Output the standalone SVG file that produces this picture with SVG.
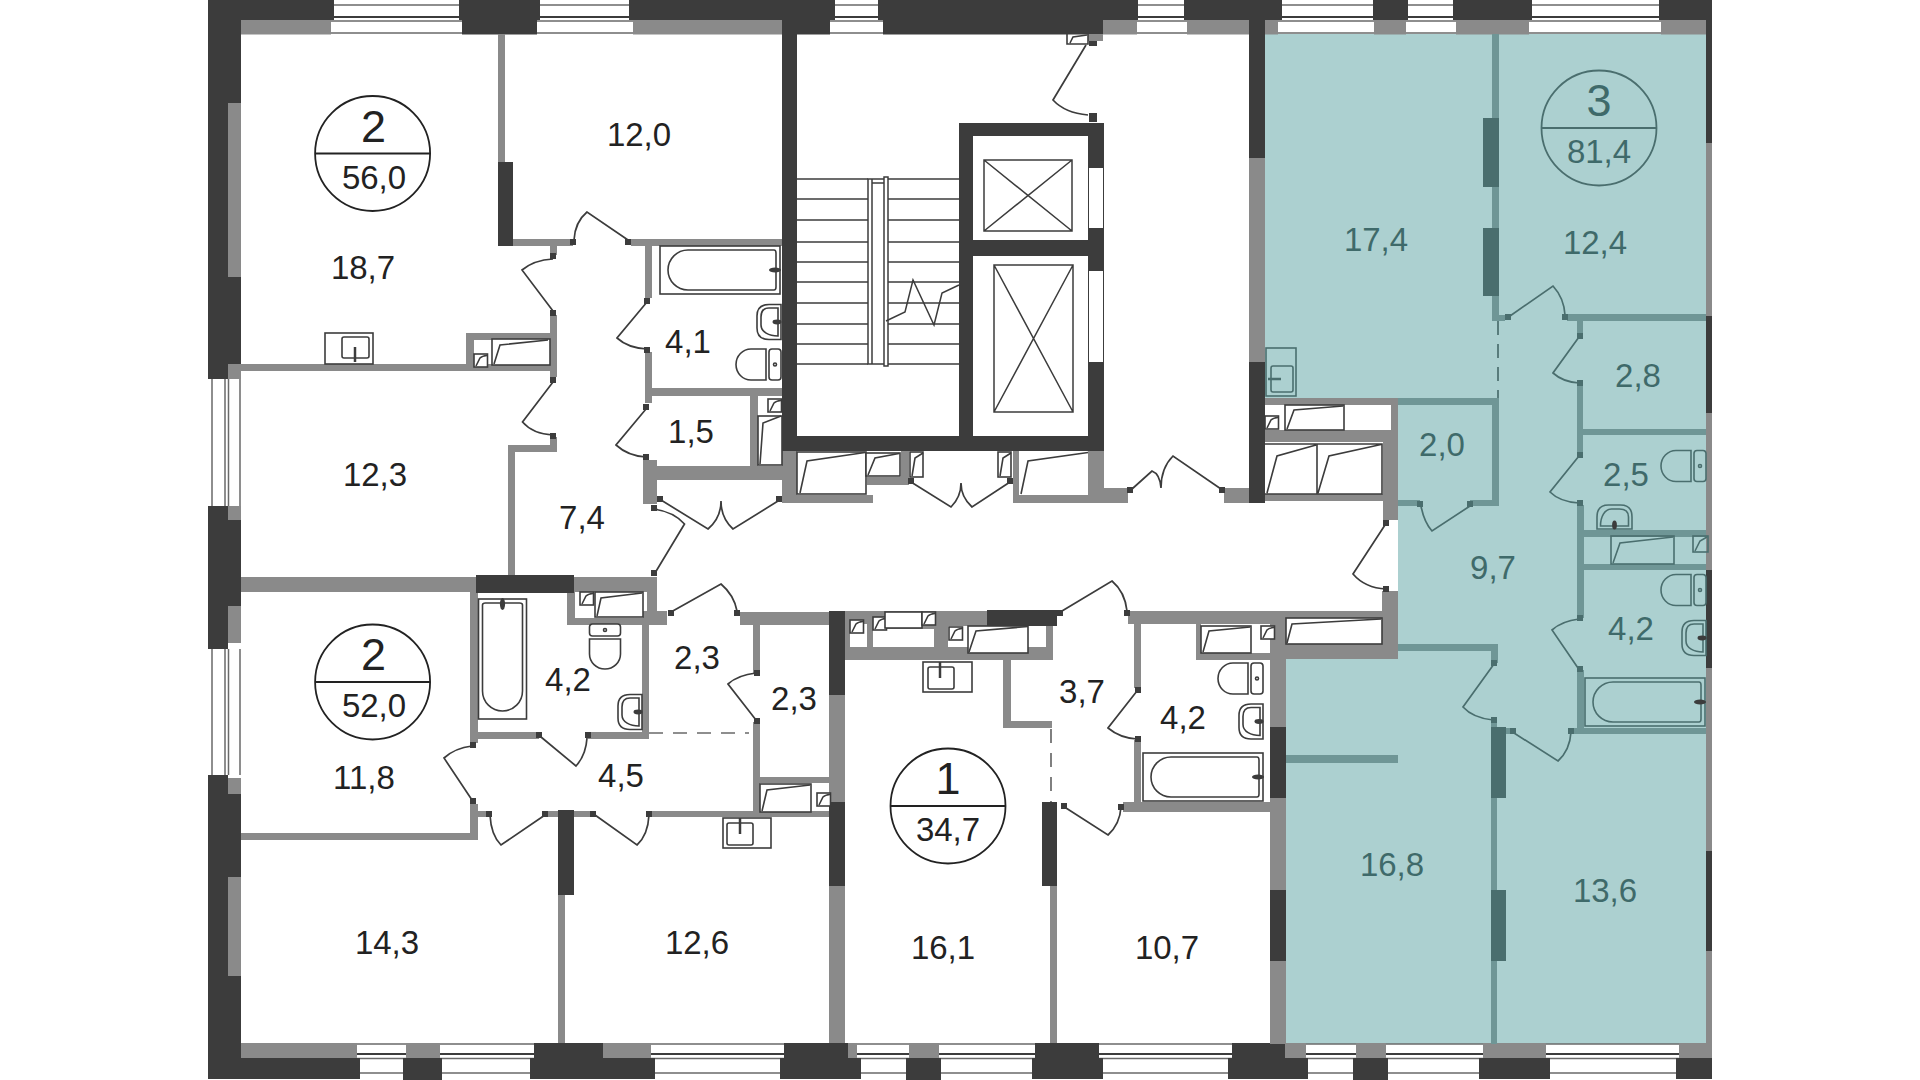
<svg xmlns="http://www.w3.org/2000/svg" width="1920" height="1080" viewBox="0 0 1920 1080">
<style>
.d{fill:#3c3c3c}.g{fill:#8a8a8a}.t{fill:#6f9696}.td{fill:#4a6e6e}
.win{stroke:#6a6a6a;stroke-width:1.500;fill:none}
.winh{stroke:#3c3c3c;stroke-width:2.200;fill:none}
.dr{fill:none;stroke:#3c3c3c;stroke-width:1.700}
.drt{fill:none;stroke:#4a6e6e;stroke-width:1.700}
.fx{fill:#fff;stroke:#3c3c3c;stroke-width:1.600}
.fxt{fill:none;stroke:#4a6e6e;stroke-width:1.600}
.solid{fill:#3c3c3c}
.fxt .solid{fill:#4a6e6e}
.st{stroke:#3c3c3c;stroke-width:1.500;fill:none}
.dash{stroke:#6a6a6a;stroke-width:1.700;stroke-dasharray:14 10;fill:none}
.l{font-family:"Liberation Sans",Arial,sans-serif;font-size:33px;text-anchor:middle;fill:#222}
.c{fill:#3f6a6a}
.n{font-size:45px}
</style>
<defs>
<g id="sink"><path d="M0-17.500H-12Q-24-17.500-24-6V6Q-24 17.500-12 17.500H0Z"/><path d="M-3-14H-12Q-20-14-20-5V3C-20 10-12 14-3 14Z"/><ellipse class="solid" cx="-4" cy="0" rx="4.500" ry="2.400" stroke="none"/></g>
<g id="toilet"><rect x="-12" y="-15.500" width="12" height="31" rx="3"/><path d="M-15-15.500H-30a15 15.500 0 0 0 0 31H-15Z"/><circle cx="-6" cy="0" r="1.500"/></g>
<g id="bath"><rect x="-120" y="-24" width="120" height="48"/><path d="M-6-20H-92a20 20 0 0 0 0 40H-6Q-4 20-4 17V-17Q-4-20-6-20Z"/><ellipse class="solid" cx="-5" cy="0" rx="6" ry="2.600" stroke="none"/></g>
<g id="sq"><rect width="13.500" height="13"/><path d="M2 12L6 4Q8 2 13 1.500"/></g>
</defs>

<rect width="1920" height="1080" fill="#fff"/>
<path id="flat3" d="M1265 34H1706V1044H1286V659H1398V405H1265Z" fill="#acd0d0"/>

<g id="windows">
<path class="win" d="M241 5H1700M241 21H1700M241 33H1700M241 1044H1700M241 1058.500H1700M241 1073H1700"/>
<path class="winh" d="M241 17H1700M241 1054H1700"/>
<path class="win" d="M212 379V506M225 379V506M228.500 379V506M240 379V506M212 649V775M225 649V775M228.500 649V775M240 649V775"/>
</g>

<g id="outer-walls">
<path class="d" d="M208 0H334V20H208ZM459 0H540V20H459ZM629 0H835V20H629ZM878 0H1138V20H878ZM1184 0H1282V20H1184ZM1373 0H1408V20H1373ZM1453 0H1532V20H1453ZM1659 0H1712V20H1659Z"/>
<path class="g" d="M241 20H331V34.500H241ZM633 20H782V34.500H633ZM1103 20H1137V34.500H1103ZM1187 20H1249V34.500H1187ZM1265 20H1278V34.500H1265ZM1374 20H1406V34.500H1374ZM1456 20H1529V34.500H1456ZM1661 20H1706V34.500H1661Z"/>
<path class="d" d="M462 20H537V34.500H462ZM782 20H830V34.500H782ZM883 20H1103V34.500H883Z"/>
<path class="g" d="M241 1043H357V1058H241ZM406 1043H440V1058H406ZM603 1043H651V1058H603ZM848 1043H857V1058H848ZM909 1043H939V1058H909ZM1285 1043H1306V1058H1285ZM1356 1043H1386V1058H1356ZM1483 1043H1546V1058H1483ZM1679 1043H1712V1058H1679Z"/>
<path class="d" d="M534 1043H603V1058H534ZM784 1043H848V1058H784ZM1035 1043H1099V1058H1035ZM1232 1043H1285V1058H1232Z"/>
<path class="d" d="M208 1058H360V1079H208ZM403 1058H442V1080H403ZM530 1058H655V1079H530ZM780 1058H861V1079H780ZM906 1058H941V1080H906ZM1032 1058H1103V1079H1032ZM1228 1058H1308V1079H1228ZM1353 1058H1388V1080H1353ZM1479 1058H1550V1079H1479ZM1676 1058H1712V1079H1676Z"/>
<path class="d" d="M208 0H228V379H208ZM228 0H241V103H228ZM228 277H241V365H228ZM208 506H228V649H208ZM228 520H241V606H228ZM208 775H228V1079H208ZM228 794H241V877H228ZM228 976H241V1058H228Z"/>
<path class="g" d="M228 103H241V277H228ZM228 365H241V379H228ZM228 506H241V520H228ZM228 606H241V643H228ZM228 778H241V794H228ZM228 877H241V976H228Z"/>
<path class="d" d="M1706 0H1712V143H1706ZM1706 316H1712V413H1706ZM1706 570H1712V668H1706ZM1706 851H1712V951H1706Z"/>
<path class="g" d="M1706 143H1712V316H1706ZM1706 413H1712V570H1706ZM1706 668H1712V851H1706ZM1706 951H1712V1044H1706Z"/>
</g>

<g id="inner-walls">
<path class="g" d="M498 34H505V162H498ZM513 239H573V246H513ZM631 239H782V246H631ZM550 246H557V255H550ZM550 315H557V377H550ZM550 437H557V452H550ZM508 445H557V452H508ZM508 452H515V576H508ZM228 364H557V371H228ZM466 333H474V365H466ZM466 333H550V340H466ZM645 246H652V298H645ZM645 352H652V403H645ZM645 388H782V396H645ZM643 460H657V504H643ZM643 466H782V480H643ZM750 396H758V466H750Z"/>
<path class="d" d="M498 162H513V246H498Z"/>
<path class="d" d="M782 20H797V451H782ZM782 436H1104V451H782ZM959 123H1104V136H959ZM959 123H973V451H959ZM1088 123H1104V451H1088ZM959 240H1104V256H959Z"/>
<rect x="1089" y="168" width="14" height="60" fill="#fff"/>
<rect x="1089" y="271" width="14" height="91" fill="#fff"/>
<path class="g" d="M782 451H797V503H782ZM782 495H873V503H782ZM867 477H909V485H867ZM901 451H909V485H901ZM1013 451H1019V503H1013ZM1013 495H1088V503H1013ZM1088 451H1104V503H1088ZM1088 488H1128V503H1088ZM1224 488H1249V503H1224ZM1088 34H1103V41H1088Z"/>
<path class="g" d="M1249 158H1265V362H1249Z"/>
<path class="d" d="M1249 20H1265V158H1249ZM1249 362H1265V503H1249Z"/>
<path class="g" d="M1265 398H1398V405H1265ZM1391 398H1398V520H1391ZM1265 430H1398V442H1265ZM1265 494H1398V501H1265ZM1383 442H1398V520H1383Z"/>
<path class="g" d="M241 577H476V592H241ZM574 577H657V592H574ZM647 577H657V611H647ZM567 592H575V625H567ZM567 618H667V625H567ZM643 611H667V618H643ZM740 612H829V625H740ZM642 625H649V739H642ZM478 732H539V739H478ZM588 732H649V739H588ZM470 592H478V743H470ZM470 804H478V840H470ZM241 833H478V840H241ZM478 811H489V817H478ZM548 811H558V817H548ZM574 811H590V817H574ZM651 811H829V817H651ZM558 895H565V1043H558ZM753 625H760V673H753ZM753 722H760V812H753ZM760 777H829V783H760Z"/>
<path class="d" d="M476 575H574V593H476ZM558 810H574V895H558Z"/>
<path class="g" d="M829 695H845V802H829ZM829 886H845V1043H829Z"/>
<path class="d" d="M829 611H845V695H829ZM829 802H845V886H829Z"/>
<path class="g" d="M845 611H987V660H845ZM948 647H1053V660H948ZM1046 626H1053V660H1046ZM1128 611H1300V624H1128ZM1003 660H1011V728H1003ZM1003 721H1052V728H1003ZM1050 886H1057V1043H1050ZM1123 802H1270V812H1123ZM1134 624H1141V688H1134ZM1134 740H1141V802H1134ZM1196 653H1270V660H1196ZM1196 624H1201V660H1196Z"/>
<rect x="850" y="624" width="17" height="23" fill="#fff"/>
<rect x="873" y="629" width="61" height="18" fill="#fff"/>
<rect x="948" y="626" width="98" height="21" fill="#fff"/>
<path class="d" d="M987 610H1057V626H987ZM1042 802H1057V886H1042Z"/>
<path class="g" d="M1270 611H1286V1044H1270ZM1260 611H1382V618H1260ZM1382 591H1398V659H1382ZM1270 644H1398V659H1270Z"/>
<path class="d" d="M1270 727H1286V798H1270ZM1270 890H1286V961H1270Z"/>
</g>

<g id="flat3-walls">
<path class="t" d="M1492 34H1499V320H1492ZM1492 315H1505V321H1492ZM1567 314H1706V321H1567ZM1577 321H1583V336H1577ZM1577 385H1583V455H1577ZM1583 429H1706V435H1583ZM1577 505H1584V618H1577ZM1584 530H1706V537H1584ZM1584 564H1706V570H1584ZM1577 670H1584V733H1577ZM1572 728H1706V734H1572ZM1506 728H1510V734H1506ZM1491 798H1497V1044H1491ZM1491 718H1497V727H1491ZM1491 644H1498V663H1491ZM1398 644H1498V651H1398ZM1286 755H1398V763H1286ZM1398 398H1499V405H1398ZM1492 398H1499V506H1492ZM1398 500H1420V506H1398ZM1470 500H1499V506H1470Z"/>
<path class="td" d="M1483 118H1499V187H1483ZM1483 228H1499V296H1483ZM1491 727H1506V798H1491ZM1491 890H1506V961H1491Z"/>
<path class="dash" d="M1498 321V398" style="stroke:#4a6e6e;stroke-dasharray:14 9"/>
</g>

<g id="stairs-lifts">
<path class="st" d="M797 179H868M797 199H868M797 220H868M797 242H868M797 262H868M797 282H868M797 303H868M797 324H868M797 344H868M797 364H868M888 179H959M888 199H959M888 220H959M888 242H959M888 262H959M888 282H959M888 303H959M888 324H959M888 344H959M888 364H959"/>
<path class="st" d="M868 179H872V364H868ZM884 177H888V366H884ZM872 179H884M872 183H884M872 364H884"/>
<path class="st" d="M886 321L905 312L913 280L934 325L942 293L959 285"/>
<path class="st" d="M984 160H1072V231H984ZM984 160L1072 231M1072 160L984 231M994 265H1073V412H994ZM994 265L1073 412M1073 265L994 412"/>
</g>

<g id="fixtures" class="fx">
<rect x="325" y="333" width="48" height="31"/><rect x="342" y="337" width="27" height="21" rx="2"/><path d="M355 347V362" stroke-width="2.500"/>
<rect x="492" y="339" width="58" height="26"/><path d="M494 364L500 345L548 340" fill="none"/>
<use href="#sq" x="474" y="354"/>
<use href="#bath" transform="translate(780 270)"/>
<use href="#sink" transform="translate(781 322)"/>
<use href="#toilet" transform="translate(781 364.500)"/>
<use href="#sq" x="768" y="399"/>
<rect x="758" y="416" width="24" height="49"/><path d="M760 464L763 423L781 416" fill="none"/>
<rect x="797" y="452" width="69" height="42"/><path d="M800 493L807 461L865 452.500" fill="none"/>
<rect x="866" y="453" width="34" height="23"/><path d="M868 475L875 458L899 453.500" fill="none"/>
<rect x="910" y="452" width="13" height="25"/><path d="M912 476L915 458L923 453" fill="none"/>
<rect x="998" y="452" width="13" height="25"/><path d="M1000 476L1003 458L1011 453" fill="none"/>
<path d="M1021 494L1028 461L1088 452.500" fill="none"/>
<path d="M1067 34V44H1088V34M1070 43L1073 37L1087 35" fill="none"/>
<use href="#bath" transform="translate(502.500 599) rotate(-90)"/>
<use href="#toilet" transform="translate(605 624) rotate(-90)"/>
<use href="#sink" transform="translate(642 712)"/>
<rect x="595" y="592" width="48" height="25"/><path d="M597 616L601 598L642 593" fill="none"/>
<use href="#sq" x="580" y="592"/>
<rect x="760" y="784" width="51" height="28"/><path d="M762 811L767 790L810 785" fill="none"/>
<use href="#sq" x="817" y="793"/>
<rect x="723" y="818" width="48" height="30"/><rect x="727" y="823" width="26" height="22" rx="2"/><path d="M740 818V834" stroke-width="2.500"/>
<use href="#sq" x="850" y="620"/><use href="#sq" x="873" y="617"/><rect x="885" y="612" width="37" height="16"/><use href="#sq" x="922" y="612"/><use href="#sq" x="949" y="627"/>
<rect x="968" y="626" width="60" height="27"/><path d="M969 652L976 631L1028 626.500" fill="none"/>
<rect x="923" y="662" width="49" height="30"/><rect x="928" y="667" width="26" height="22" rx="2"/><path d="M940 662V678" stroke-width="2.500"/>
<rect x="1201" y="626" width="50" height="27"/><path d="M1203 652L1209 631L1250 627" fill="none"/>
<use href="#sq" x="1261" y="626"/>
<use href="#toilet" transform="translate(1263 678.500)"/>
<use href="#sink" transform="translate(1263 721.500)"/>
<use href="#bath" transform="translate(1263 777)"/>
<rect x="1286" y="618" width="96" height="26"/><path d="M1287 643L1292 624L1381 619" fill="none"/>
<rect x="1285" y="405" width="59" height="25"/><path d="M1287 429L1294 410L1343 406" fill="none"/>
<use href="#sq" x="1265" y="416"/>
<path d="M1265 444H1382V494H1265M1317 444V494M1267 493L1277 456L1316 445M1318 493L1329 456L1381 444.500" fill="none"/>
</g>
<g id="fixtures-flat3" class="fxt">
<rect x="1266" y="348" width="30" height="48"/><rect x="1271" y="366" width="22" height="26" rx="2"/><path d="M1268 379H1281" stroke-width="2.500"/>
<use href="#toilet" transform="translate(1706 466)"/>
<use href="#sink" transform="translate(1614.500 529) rotate(90)"/>
<rect x="1611" y="536" width="63" height="28"/><path d="M1613 563L1620 543L1673 537"/>
<rect x="1693" y="536" width="15" height="16"/><path d="M1695 551L1700 541L1707 537"/>
<use href="#toilet" transform="translate(1706 590)"/>
<use href="#sink" transform="translate(1706 638)"/>
<use href="#bath" transform="translate(1705 702)"/>
</g>

<g id="dashes">
<path class="dash" d="M649 733H749"/>
<path class="dash" d="M1051 729V802"/>
</g>

<g id="doors">
<path class="dr" d="M574 240Q575 222 587 212L628 240"/>
<path class="dr" d="M553 259Q534 260 522 270L553 311"/>
<path class="dr" d="M553 382L522.500 422Q533 434 553 435"/>
<path class="dr" d="M647 302L617 338Q628 348 647 349"/>
<path class="dr" d="M646 409L616 445Q628 456 646 457"/>
<path class="dr" d="M661 500L708 529Q721 518 721 501Q721 518 733 529L778 501"/>
<path class="dr" d="M654 509Q674 512 684.500 524L655 573"/>
<path class="dr" d="M1086 45L1053 100Q1065 113 1088 115"/>
<path class="dr" d="M911 482L951 507Q961 497 961 483Q961 497 972 507L1010 482"/>
<path class="dr" d="M1132 489L1152 471Q1160 474 1161 488Q1161 468 1173 456L1221 489"/>
<path class="dr" d="M671 612L721 584Q734 595 737 611"/>
<path class="dr" d="M541 737L576 766Q586 755 587 738"/>
<path class="dr" d="M472 746Q455 748 444 758L472 800"/>
<path class="dr" d="M490 815Q491 835 501 845L545 815"/>
<path class="dr" d="M595 815L637 845Q648 835 649 815"/>
<path class="dr" d="M756 673Q738 675 728 684L756 720"/>
<path class="dr" d="M1062 611L1112 581Q1125 592 1127 611"/>
<path class="dr" d="M1137 691L1108 728Q1120 738 1137 739"/>
<path class="dr" d="M1066 808L1108 835Q1120 824 1121 807"/>
<path class="dr" d="M1385 525L1353 574Q1365 588 1386 589"/>
</g>
<g id="doors-flat3">
<path class="drt" d="M1510 316L1553 286Q1564 298 1565 315"/>
<path class="drt" d="M1579 337L1553 373Q1563 382 1579 383"/>
<path class="drt" d="M1579 456L1550 492Q1560 502 1579 503"/>
<path class="drt" d="M1421 506Q1424 522 1432 531L1470 506"/>
<path class="drt" d="M1579 619Q1562 621 1552 630L1578 668"/>
<path class="drt" d="M1571 732Q1570 750 1558 761L1514 733"/>
<path class="drt" d="M1494 664L1463 707Q1473 718 1493 720"/>
</g>
<g id="hinges">
<path class="d" d="M570 239h6v6h-6zM625 239h6v6h-6zM550 253h6v6h-6zM550 310h6v6h-6zM550 377h6v6h-6zM550 433h6v6h-6zM644 298h6v6h-6zM644 347h6v6h-6zM643 404h6v6h-6zM643 454h6v6h-6zM657 496h6v6h-6zM776 496h6v6h-6zM651 505h6v6h-6zM651 570h6v6h-6zM1089 41h8v5h-8zM1089 113h8v9h-8zM908 478h6v6h-6zM1007 478h6v6h-6zM1127 487h6v6h-6zM1219 487h6v6h-6zM668 610h6v6h-6zM734 610h6v6h-6zM536 732h6v6h-6zM585 732h6v6h-6zM470 742h6v6h-6zM470 798h6v6h-6zM486 811h6v6h-6zM542 811h6v6h-6zM590 811h6v6h-6zM646 811h6v6h-6zM754 670h6v6h-6zM754 718h6v6h-6zM1057 610h6v6h-6zM1124 610h6v6h-6zM1135 687h6v6h-6zM1135 736h6v6h-6zM1061 803h6v6h-6zM1118 804h6v6h-6zM1383 520h6v6h-6zM1383 586h6v6h-6z"/>
<path class="td" d="M1505 314h6v6h-6zM1562 314h6v6h-6zM1577 333h6v6h-6zM1577 380h6v6h-6zM1577 452h6v6h-6zM1577 500h6v6h-6zM1417 501h6v6h-6zM1467 501h6v6h-6zM1577 615h6v6h-6zM1577 666h6v6h-6zM1568 728h6v6h-6zM1510 728h6v6h-6zM1491 660h6v6h-6zM1491 717h6v6h-6z"/>
</g>

<g id="badge-1"><circle cx="372.600" cy="153.500" r="57.500" fill="none" stroke="#222" stroke-width="1.800"/><path d="M315 153.500H430" stroke="#222" stroke-width="1.800"/><text class="l n" x="373.500" y="141.500">2</text><text class="l" x="374" y="188.500">56,0</text></g>
<g id="badge-2"><circle cx="372.600" cy="682" r="57.500" fill="none" stroke="#222" stroke-width="1.800"/><path d="M315 682H430" stroke="#222" stroke-width="1.800"/><text class="l n" x="373.500" y="670">2</text><text class="l" x="374" y="717">52,0</text></g>
<g id="badge-3"><circle cx="948" cy="806" r="57.500" fill="none" stroke="#222" stroke-width="1.800"/><path d="M891 806H1005" stroke="#222" stroke-width="1.800"/><text class="l n" x="948" y="793.500">1</text><text class="l" x="948" y="841">34,7</text></g>
<g id="badge-4"><circle cx="1599" cy="128" r="57.500" fill="none" stroke="#4a6e6e" stroke-width="1.800"/><path d="M1542 128H1656" stroke="#4a6e6e" stroke-width="1.800"/><text class="l n c" x="1599" y="115.500">3</text><text class="l c" x="1599" y="162.500">81,4</text></g>

<g id="labels">
<text class="l" x="363" y="279">18,7</text>
<text class="l" x="639" y="146">12,0</text>
<text class="l" x="688" y="353">4,1</text>
<text class="l" x="691" y="442.500">1,5</text>
<text class="l" x="375" y="486">12,3</text>
<text class="l" x="582" y="528.500">7,4</text>
<text class="l" x="364" y="789">11,8</text>
<text class="l" x="568" y="690.500">4,2</text>
<text class="l" x="697" y="669">2,3</text>
<text class="l" x="794" y="710">2,3</text>
<text class="l" x="621" y="786.500">4,5</text>
<text class="l" x="387" y="954">14,3</text>
<text class="l" x="697" y="954">12,6</text>
<text class="l" x="1082" y="702.500">3,7</text>
<text class="l" x="1183" y="729">4,2</text>
<text class="l" x="943" y="959">16,1</text>
<text class="l" x="1167" y="959">10,7</text>
<text class="l c" x="1376" y="251">17,4</text>
<text class="l c" x="1595" y="254">12,4</text>
<text class="l c" x="1638" y="387">2,8</text>
<text class="l c" x="1442" y="456">2,0</text>
<text class="l c" x="1626" y="485.500">2,5</text>
<text class="l c" x="1493" y="579">9,7</text>
<text class="l c" x="1631" y="640">4,2</text>
<text class="l c" x="1392" y="876">16,8</text>
<text class="l c" x="1605" y="902">13,6</text>
</g>
</svg>
